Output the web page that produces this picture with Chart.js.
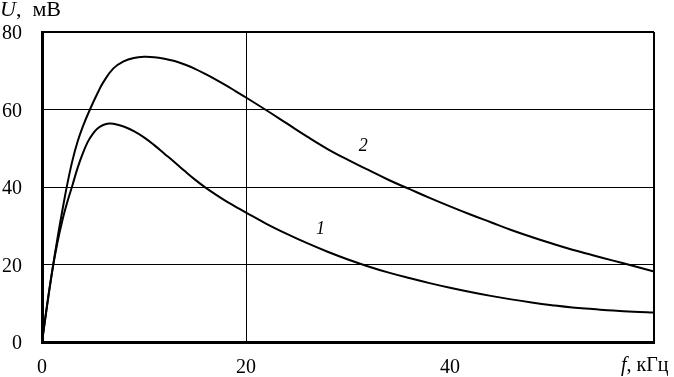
<!DOCTYPE html>
<html>
<head>
<meta charset="utf-8">
<script src="https://cdn.jsdelivr.net/npm/chart.js@4/dist/chart.umd.min.js"></script>
<style>
html,body{margin:0;padding:0;background:#fff;}
#wrap{width:674px;height:377px;position:relative;}
</style>
</head>
<body>
<div id="wrap"><canvas id="c" width="674" height="377"></canvas></div>
<script>
// Curve 1
const freq1 = [0,0.5,1,1.5,2,2.5,3,3.5,4,4.5,5,5.5,6,6.6,7,8,9,10,11,12,13,14,15,16,17,18,19,20,22,24,26,28,30,32,34,36,38,40,42,44,46,48,50,52,54,56,58,60];
const u1    = [0,9.5,18.3,25.5,31.4,36.3,40.6,45,48.7,51.7,53.8,55.2,56,56.4,56.3,55.6,54.4,52.8,50.8,48.6,46.4,44.1,41.9,39.9,38.1,36.4,34.9,33.4,30.5,27.9,25.5,23.3,21.3,19.5,17.9,16.5,15.2,14,12.9,11.9,11,10.2,9.5,8.9,8.5,8.1,7.8,7.6];
// Curve 2
const freq2 = [0,0.5,1,1.5,2,2.5,3,3.5,4,4.7,5.5,6,7,8,9,10,11,12,13,14,15,16,17,18,19,20,22,24,26,28,30,32,34,36,38,40,42,44,46,48,50,52,54,56,58,60];
const u2    = [0,9.5,18.3,26.5,34,41,47,51.8,55.6,60,64.5,67,70.6,72.4,73.3,73.6,73.5,73.1,72.5,71.6,70.5,69.2,67.8,66.3,64.7,63.1,59.8,56.4,53,49.8,47,44.4,41.8,39.5,37.2,35,32.9,30.9,28.9,27.1,25.4,23.8,22.4,21,19.6,18.2];
const yTicks = [0,20,40,60,80];
const xTicks = [0,20,40,60];
const curveLabels = [{text:'1', x:27.3, y:29}, {text:'2', x:31.5, y:50.6}];

const toPts = (xs, ys) => xs.map((x,i)=>({x:x, y:ys[i]}));

const textPlugin = {
  id:'texts',
  afterDraw(chart){
    const ctx = chart.ctx;
    const xs = chart.scales.x, ys = chart.scales.y;
    ctx.save();
    ctx.fillStyle = '#000';
    ctx.textBaseline = 'middle';
    // curve labels
    ctx.font = 'italic 18px "Liberation Serif"';
    ctx.textAlign = 'center';
    curveLabels.forEach(l=>{
      ctx.fillText(l.text, xs.getPixelForValue(l.x), ys.getPixelForValue(l.y));
    });
    // y title
    ctx.textAlign = 'left';
    ctx.font = 'italic 22px "Liberation Serif"';
    ctx.fillText('U', 0, 10);
    let w = ctx.measureText('U').width;
    ctx.font = '22px "Liberation Serif"';
    ctx.fillText(',  мВ', w, 10);
    // x title
    ctx.font = 'italic 20px "Liberation Serif"';
    ctx.fillText('f', 621, 366);
    w = ctx.measureText('f').width;
    ctx.font = '20px "Liberation Serif"';
    ctx.fillText(', кГц', 621 + w, 366);
    ctx.restore();
  }
};

new Chart(document.getElementById('c'), {
  type:'scatter',
  data:{
    datasets:[
      {data:toPts(freq1,u1), showLine:true, borderColor:'#000', borderWidth:2, pointRadius:0, tension:0.4, fill:false},
      {data:toPts(freq2,u2), showLine:true, borderColor:'#000', borderWidth:2, pointRadius:0, tension:0.4, fill:false}
    ]
  },
  options:{
    responsive:false,
    animation:false,
    devicePixelRatio:1,
    layout:{padding:{top:30,right:20,left:0,bottom:0}},
    plugins:{legend:{display:false}, tooltip:{enabled:false}},
    scales:{
      x:{
        type:'linear', min:0, max:60,
        afterBuildTicks(s){ s.ticks = xTicks.map(v=>({value:v})); },
        afterFit(s){ s.height = 35; },
        border:{display:true, color:'#000', width:3},
        grid:{
          drawTicks:false,
          color:(c)=> (c.tick && (c.tick.value===20 || c.tick.value===60)) ? '#000' : 'rgba(0,0,0,0)',
          lineWidth:(c)=> (c.tick && c.tick.value===60) ? 2 : 1
        },
        ticks:{
          color:'#000', padding:14,
          font:{family:'"Liberation Serif"', size:20},
          maxRotation:0, autoSkip:false,
          callback:(v)=> v===60 ? '' : String(v)
        }
      },
      y:{
        type:'linear', min:0, max:80,
        afterBuildTicks(s){ s.ticks = yTicks.map(v=>({value:v})); },
        afterFit(s){ s.width = 42; },
        border:{display:true, color:'#000', width:3},
        grid:{
          drawTicks:false,
          color:(c)=> (c.tick && c.tick.value>0) ? '#000' : 'rgba(0,0,0,0)',
          lineWidth:(c)=> (c.tick && c.tick.value===80) ? 2 : 1
        },
        ticks:{
          color:'#000', padding:20,
          font:{family:'"Liberation Serif"', size:20},
          labelOffset:2,
          callback:(v)=> String(v)
        }
      }
    }
  },
  plugins:[textPlugin]
});
</script>
</body>
</html>
